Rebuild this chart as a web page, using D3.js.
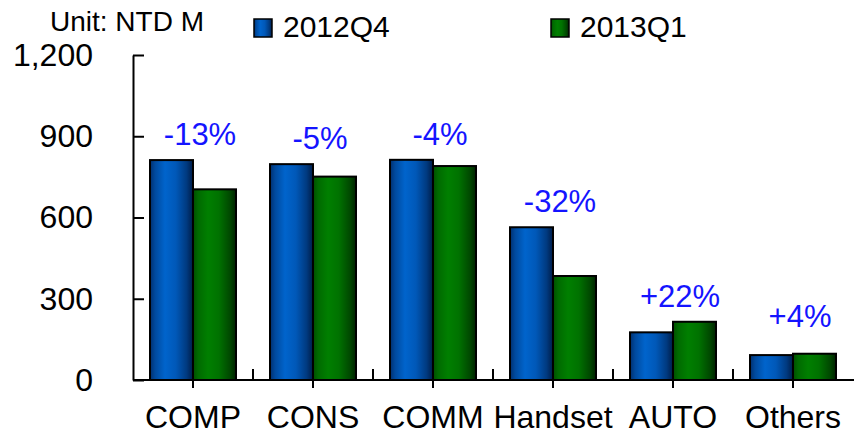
<!DOCTYPE html>
<html>
<head>
<meta charset="utf-8">
<script src="https://cdn.jsdelivr.net/npm/d3@7"></script>
<style>
  html, body { margin: 0; padding: 0; background: #fff; }
  svg { display: block; font-family: "Liberation Sans", Arial, Helvetica, sans-serif; }
</style>
</head>
<body>
<svg id="chart" width="854" height="438"></svg>
<script>
// ---- data ----
const categories = ["COMP", "CONS", "COMM", "Handset", "AUTO", "Others"];
const seriesNames = ["2012Q4", "2013Q1"];
const values2012Q4 = [812, 797, 813, 564, 176, 92];
const values2013Q1 = [704, 751, 790, 384, 215, 97];
const changeLabels = ["-13%", "-5%", "-4%", "-32%", "+22%", "+4%"];
const yTicks = [0, 300, 600, 900, 1200];
const unitLabel = "Unit: NTD M";

// ---- layout ----
const svg = d3.select("#chart");
const x0 = 133, x1 = 853, yTop = 55, yBase = 380;

const x = d3.scaleBand().domain(categories).range([x0, x1]).paddingInner(0).paddingOuter(0);
const sidePad = 17;
const barW = (x.bandwidth() - 2 * sidePad) / 2;
const y = d3.scaleLinear().domain([0, 1200]).range([yBase, yTop]);

// gradients
const defs = svg.append("defs");
function grad(id, stops) {
  const g = defs.append("linearGradient").attr("id", id)
    .attr("x1", "0%").attr("x2", "100%").attr("y1", "0%").attr("y2", "0%");
  stops.forEach(s => g.append("stop").attr("offset", s[0]).attr("stop-color", s[1]));
}
grad("gBlue", [["0%", "#002f6e"], ["12%", "#004a9e"], ["35%", "#0064cc"], ["60%", "#0058b8"], ["85%", "#003a80"], ["100%", "#001c48"]]);
grad("gGreen", [["0%", "#004d00"], ["12%", "#006a00"], ["35%", "#007f00"], ["60%", "#007200"], ["85%", "#004a00"], ["100%", "#002200"]]);
const fills = ["url(#gBlue)", "url(#gGreen)"];
const seriesValues = [values2012Q4, values2013Q1];

// bars
const g = svg.append("g");
seriesValues.forEach((vals, si) => {
  g.selectAll(".bar" + si)
    .data(categories.map((c, i) => ({ c, v: vals[i] })))
    .join("rect")
    .attr("class", "bar" + si)
    .attr("x", d => x(d.c) + sidePad + si * barW)
    .attr("y", d => y(d.v))
    .attr("width", barW)
    .attr("height", d => yBase - y(d.v))
    .attr("fill", fills[si])
    .attr("stroke", "#000")
    .attr("stroke-width", 2);
});

// y axis
const yAxis = d3.axisLeft(y).tickValues(yTicks).tickFormat(d3.format(",")).tickSizeInner(-11).tickSizeOuter(0).tickPadding(40);
const gy = svg.append("g").attr("transform", `translate(${x0},0)`).call(yAxis);
gy.selectAll("path, line").attr("stroke", "#000").attr("stroke-width", 2);
gy.selectAll("text").attr("font-size", 32).attr("fill", "#000").attr("font-family", "Liberation Sans, Arial, sans-serif");

// x axis
const xAxis = d3.axisBottom(x).tickSizeInner(8).tickSizeOuter(0).tickPadding(17);
const gx = svg.append("g").attr("transform", `translate(0,${yBase})`).call(xAxis);
gx.select("path.domain").attr("d", `M${x0},0H854`);
gx.selectAll("path, line").attr("stroke", "#000").attr("stroke-width", 2);
gx.selectAll("text").attr("font-size", 32).attr("fill", "#000").attr("font-family", "Liberation Sans, Arial, sans-serif");
// category boundary ticks (pointing up)
gx.selectAll(".btick").data(categories.slice(1)).join("line")
  .attr("class", "btick")
  .attr("x1", d => x(d)).attr("x2", d => x(d))
  .attr("y1", 0).attr("y2", -11)
  .attr("stroke", "#000").attr("stroke-width", 2);

// change labels
svg.selectAll(".chg").data(categories).join("text")
  .attr("class", "chg")
  .attr("x", d => x(d) + x.bandwidth() / 2 + 7)
  .attr("y", (d, i) => Math.min(y(Math.max(values2012Q4[i], values2013Q1[i])) - 15, yBase - 53))
  .attr("text-anchor", "middle")
  .attr("font-size", 31)
  .attr("fill", "#1414ff")
  .text((d, i) => changeLabels[i]);

// unit label
svg.append("text").attr("x", 50).attr("y", 31).attr("font-size", 28).attr("fill", "#000").text(unitLabel);

// legend
const legX = [254, 551];
seriesNames.forEach((n, i) => {
  svg.append("rect").attr("x", legX[i]).attr("y", 19).attr("width", 18).attr("height", 18)
    .attr("fill", fills[i]).attr("stroke", "#000").attr("stroke-width", 1.5);
  svg.append("text").attr("x", legX[i] + 29).attr("y", 37).attr("font-size", 30).attr("fill", "#000").text(n);
});
</script>
</body>
</html>
